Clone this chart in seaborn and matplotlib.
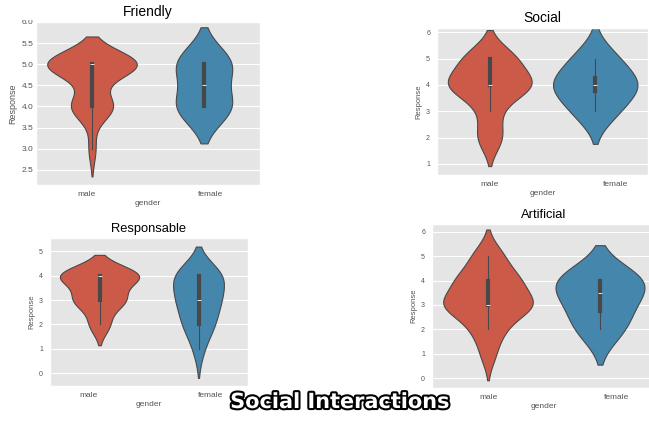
import numpy as np
import pandas as pd
import matplotlib
matplotlib.use("Agg")
import matplotlib.pyplot as plt
import seaborn as sns
from matplotlib import patheffects
from matplotlib.transforms import ScaledTranslation
from matplotlib.patches import Rectangle

# ---- data (counts of each Likert response 1..5, per gender) ----
genders = ["male", "female"]
responses = [1, 2, 3, 4, 5]
friendly_male = [0, 0, 1, 6, 13]
friendly_female = [0, 0, 0, 2, 2]
social_male = [0, 3, 2, 10, 6]
social_female = [0, 0, 1, 2, 1]
responsable_male = [0, 2, 5, 8, 0]
responsable_female = [1, 3, 4, 5, 0]
artificial_male = [2, 4, 12, 8, 4]
artificial_female = [0, 1, 1, 2, 0]
titles = ["Friendly", "Social", "Responsable", "Artificial"]
suptitle = "Social Interactions"
colors = ["#E24A33", "#348ABD"]

plt.style.use("ggplot")
plt.rcParams["font.family"] = ["Liberation Sans", "DejaVu Sans"]

W, H = 649, 421
fig = plt.figure(figsize=(W / 100, H / 100), dpi=100)
fig.patch.set_facecolor("white")


def box(l, t, r, b):
    return [l / W, (H - b) / H, (r - l) / W, (b - t) / H]


panels = [
    (titles[0], friendly_male, friendly_female, box(36, 22, 260, 185), (2.14, 6.0), 10.0, 6.0, (-5, 6), 2),
    (titles[1], social_male, social_female, box(437, 28, 648, 175), (0.58, 6.16), 10.0, 5.0, (0, 20), 5),
    (titles[2], responsable_male, responsable_female, box(50, 238, 248, 386), (-0.53, 5.55), 9.3, 5.0, (-11, 12), 5),
    (titles[3], artificial_male, artificial_female, box(432, 224, 656, 388), (-0.41, 6.32), 9.3, 5.0, (1, 16), 5),
]

for title, m, f, rect, ylim, tsize, ysize, offs, ypad in panels:
    ax = fig.add_axes(rect)
    df = pd.DataFrame({
        "gender": ["male"] * sum(m) + ["female"] * sum(f),
        "Response": np.concatenate([np.repeat(responses, m), np.repeat(responses, f)]),
    })
    sns.violinplot(data=df, x="gender", y="Response", hue="gender", order=genders,
                   hue_order=genders, palette=colors, legend=False, linewidth=0.8,
                   common_norm=True,
                   inner_kws=dict(box_width=3, whis_width=0.8), ax=ax)
    ax.set_xlim(-0.5, 1.5)
    ax.set_ylim(*ylim)
    ax.set_title(title, fontsize=tsize, color="black", pad=4)
    ax.tick_params(axis="both", length=0, labelcolor="#555555")
    ax.tick_params(axis="y", labelsize=ysize, pad=ypad)
    ax.tick_params(axis="x", labelsize=6, pad=4)
    ax.set_xlabel("gender", fontsize=6, color="#555555", labelpad=2)
    ax.set_ylabel("Response", fontsize=ysize + 0.5, color="#555555", labelpad=3)
    for lab, dx in zip(ax.get_xticklabels(), offs):
        lab.set_transform(lab.get_transform() + ScaledTranslation(dx / 100, 0, fig.dpi_scale_trans))

# white strip hiding the upper half of the topmost tick label (as in the reference crop)
fig.add_artist(Rectangle((0, (H - 20) / H), 35 / W, 20 / H, transform=fig.transFigure,
                         facecolor="white", edgecolor="none", zorder=5))

fig.text(340 / W, (H - 402) / H, suptitle, ha="center", va="center", fontsize=15,
         fontweight="bold", family="DejaVu Sans", color="white", zorder=10,
         path_effects=[patheffects.withStroke(linewidth=3, foreground="black")])

fig.savefig("out.png", dpi=100, facecolor="white")
